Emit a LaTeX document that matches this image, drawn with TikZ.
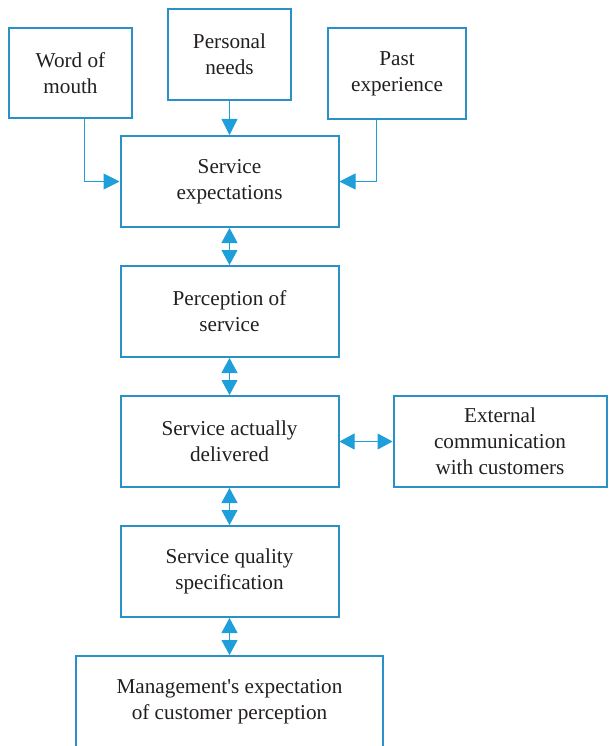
\documentclass[tikz,border=0pt]{standalone}
\usepackage{fontspec}
\setmainfont{Liberation Serif}
\usetikzlibrary{positioning}
\usetikzlibrary{arrows.meta}
\definecolor{boxblue}{HTML}{2A90C8}
\definecolor{arrblue}{HTML}{1E9FDA}
\definecolor{txtgray}{HTML}{231F20}
\tikzset{
	x = 1pt, y = 1pt,
	node distance = 37pt and 53pt,
	every node/.style={align=center, text=txtgray, font=\fontsize{21.2}{26}\selectfont},
	block/.style = {rectangle, draw=boxblue, line width=2pt, minimum width=218pt, minimum height=91pt, inner sep=0pt},
	link/.style = {draw=arrblue, line width=1pt, -{Triangle[length=16pt,width=16pt]}},
	twoway/.style = {link, {Triangle[length=15pt,width=16pt]}-{Triangle[length=15pt,width=16pt]}}
}

\begin{document}
\begin{tikzpicture}
	\useasboundingbox (0,0) rectangle (608,-746);
	\node (expect) [block] at (229.5,-181.5) {Service\\expectations};
	\node (personal) [block, minimum width=123pt, above = 34pt of expect] {Personal\\needs};
	\node (word) [block, minimum width=123pt, minimum height=90pt] at (70.5,-73) {Word of\\mouth};
	\node (past) [block, minimum width=138pt] at (397,-73.5) {Past\\experience};
	\node (percep) [block, below = of expect] {Perception of\\service};
	\node (deliv) [block, below = of percep] {Service actually\\delivered};
	\node (extcom) [block, minimum width=213pt, right = of deliv] {External\\communication\\with customers};
	\node (spec) [block, below = of deliv] {Service quality\\specification};
	\node (mgmt) [block, minimum width=307pt, below = of spec] {Management\textquotesingle s expectation\\of customer perception};

	\path (personal) edge[link] (expect);
	\draw[link] ([xshift=13.5pt]word.south) |- (expect.west);
	\draw[link] ([xshift=-21pt]past.south) |- (expect.east);
	\path (expect) edge[twoway] (percep);
	\path (percep) edge[twoway] (deliv);
	\path (deliv) edge[twoway] (extcom);
	\path (deliv) edge[twoway] (spec);
	\path (spec) edge[twoway] (mgmt);
\end{tikzpicture}
\end{document}
